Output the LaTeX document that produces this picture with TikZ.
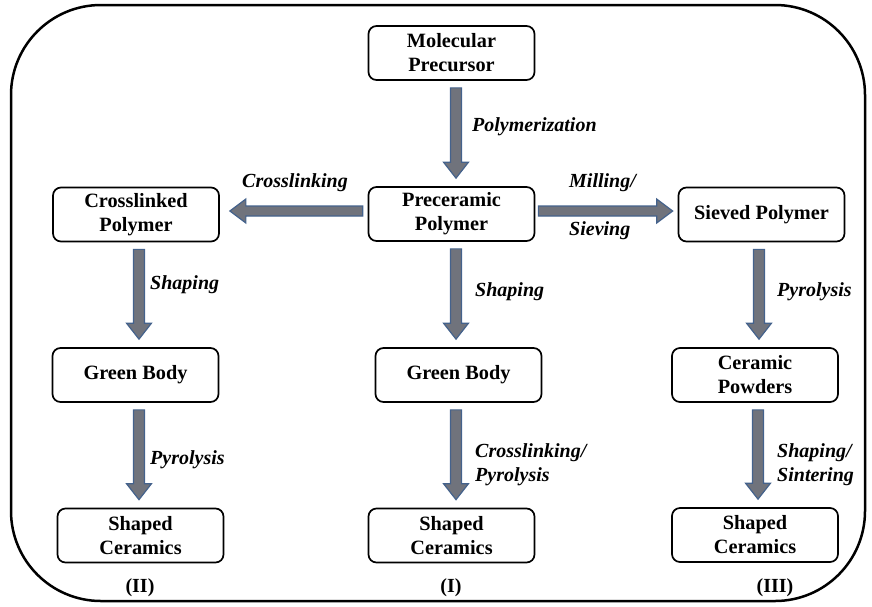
\documentclass[tikz,border=0pt]{standalone}
\usepackage{fontspec}
\setmainfont{Liberation Serif}
\usetikzlibrary{calc}
\definecolor{arrfill}{RGB}{112,115,124}
\definecolor{arrline}{RGB}{68,98,140}
\tikzset{
 box/.style={draw=black, line width=1.7pt, rounded corners=8pt, minimum width=166pt, minimum height=54pt, inner sep=0pt, align=center, font=\fontsize{20.3}{24}\selectfont\bfseries},
 lbl/.style={inner sep=0pt, align=left, anchor=west, font=\fontsize{20}{24.5}\selectfont\bfseries\itshape},
 num/.style={inner sep=0pt, font=\fontsize{20}{24}\selectfont\bfseries},
 blk/.style={fill=arrfill, draw=arrline, line width=1.2pt, line join=miter},
 frame/.style={draw=black, line width=2.5pt, rounded corners=90pt},
}
\newcommand\blkdown[3]{\draw[blk] let \p1=($(#1.south)+(#3,0)$), \p2=(#2.north) in
 ({\x1-5.5pt},{\y1-7pt}) -- ({\x1-5.5pt},{\y2+24pt}) -- ({\x1-12.5pt},{\y2+24pt}) -- ({\x1},{\y2+8pt}) -- ({\x1+12.5pt},{\y2+24pt}) -- ({\x1+5.5pt},{\y2+24pt}) -- ({\x1+5.5pt},{\y1-7pt}) -- cycle;}
\newcommand\blkleft[3]{\draw[blk] let \p1=($(#1.west)+(0,#3)$), \p2=(#2.east) in
 ({\x1-5pt},{\y1+5pt}) -- ({\x2+26pt},{\y1+5pt}) -- ({\x2+26pt},{\y1+12pt}) -- ({\x2+10pt},{\y1}) -- ({\x2+26pt},{\y1-12pt}) -- ({\x2+26pt},{\y1-5pt}) -- ({\x1-5pt},{\y1-5pt}) -- cycle;}
\newcommand\blkright[3]{\draw[blk] let \p1=($(#1.east)+(0,#3)$), \p2=(#2.west) in
 ({\x1+3pt},{\y1+5pt}) -- ({\x2-21pt},{\y1+5pt}) -- ({\x2-21pt},{\y1+12pt}) -- ({\x2-5pt},{\y1}) -- ({\x2-21pt},{\y1-12pt}) -- ({\x2-21pt},{\y1-5pt}) -- ({\x1+3pt},{\y1-5pt}) -- cycle;}
\begin{document}
\begin{tikzpicture}[x=1pt,y=-1pt]
\useasboundingbox (0,0) rectangle (872,606);
\draw[frame] (11,5) rectangle (865,601);
% boxes
\node[box] (mp)  at (451.5,53)  {Molecular\\Precursor};
\node[box] (pp)  at (451.5,214) {Preceramic\\Polymer};
\node[box] (cp)  at (136,214.5) {Crosslinked\\Polymer};
\node[box] (sp)  at (761.5,214.5) {Sieved Polymer};
\node[box] (gbl) at (135.5,375) {Green Body};
\node[box] (gbm) at (458.5,375) {Green Body};
\node[box] (cpw) at (755,375)   {Ceramic\\Powders};
\node[box] (scl) at (140.5,535.5) {Shaped\\Ceramics};
\node[box] (scm) at (451.5,535.5) {Shaped\\Ceramics};
\node[box] (scr) at (755,535)   {Shaped\\Ceramics};
% arrows
\blkdown{mp}{pp}{4.5}
\blkleft{pp}{cp}{-3}
\blkright{pp}{sp}{-3}
\blkdown{cp}{gbl}{3}
\blkdown{pp}{gbm}{4.5}
\blkdown{sp}{cpw}{-2.5}
\blkdown{gbl}{scl}{3.5}
\blkdown{gbm}{scm}{-2.5}
\blkdown{cpw}{scr}{3}
% labels
\node[lbl] (l1) at (472,127) {Polymerization};
\node[lbl, anchor=center] (l2) at (295,183) {Crosslinking};
\node[lbl] (l3) at (569,183) {Milling/};
\node[lbl] (l4) at (569,231) {Sieving};
\node[lbl] (l5) at (150,285) {Shaping};
\node[lbl] (l6) at (475,292) {Shaping};
\node[lbl] (l7) at (777,292) {Pyrolysis};
\node[lbl] (l8) at (150,460) {Pyrolysis};
\node[lbl] (l9) at (475,464.5) {Crosslinking/\\Pyrolysis};
\node[lbl] (l10) at (777,464.5) {Shaping/\\Sintering};
% column numbers
\node[num] (n2) at (140,588) {(II)};
\node[num] (n1) at (451,588) {(I)};
\node[num] (n3) at (775,588) {(III)};
\end{tikzpicture}
\end{document}
